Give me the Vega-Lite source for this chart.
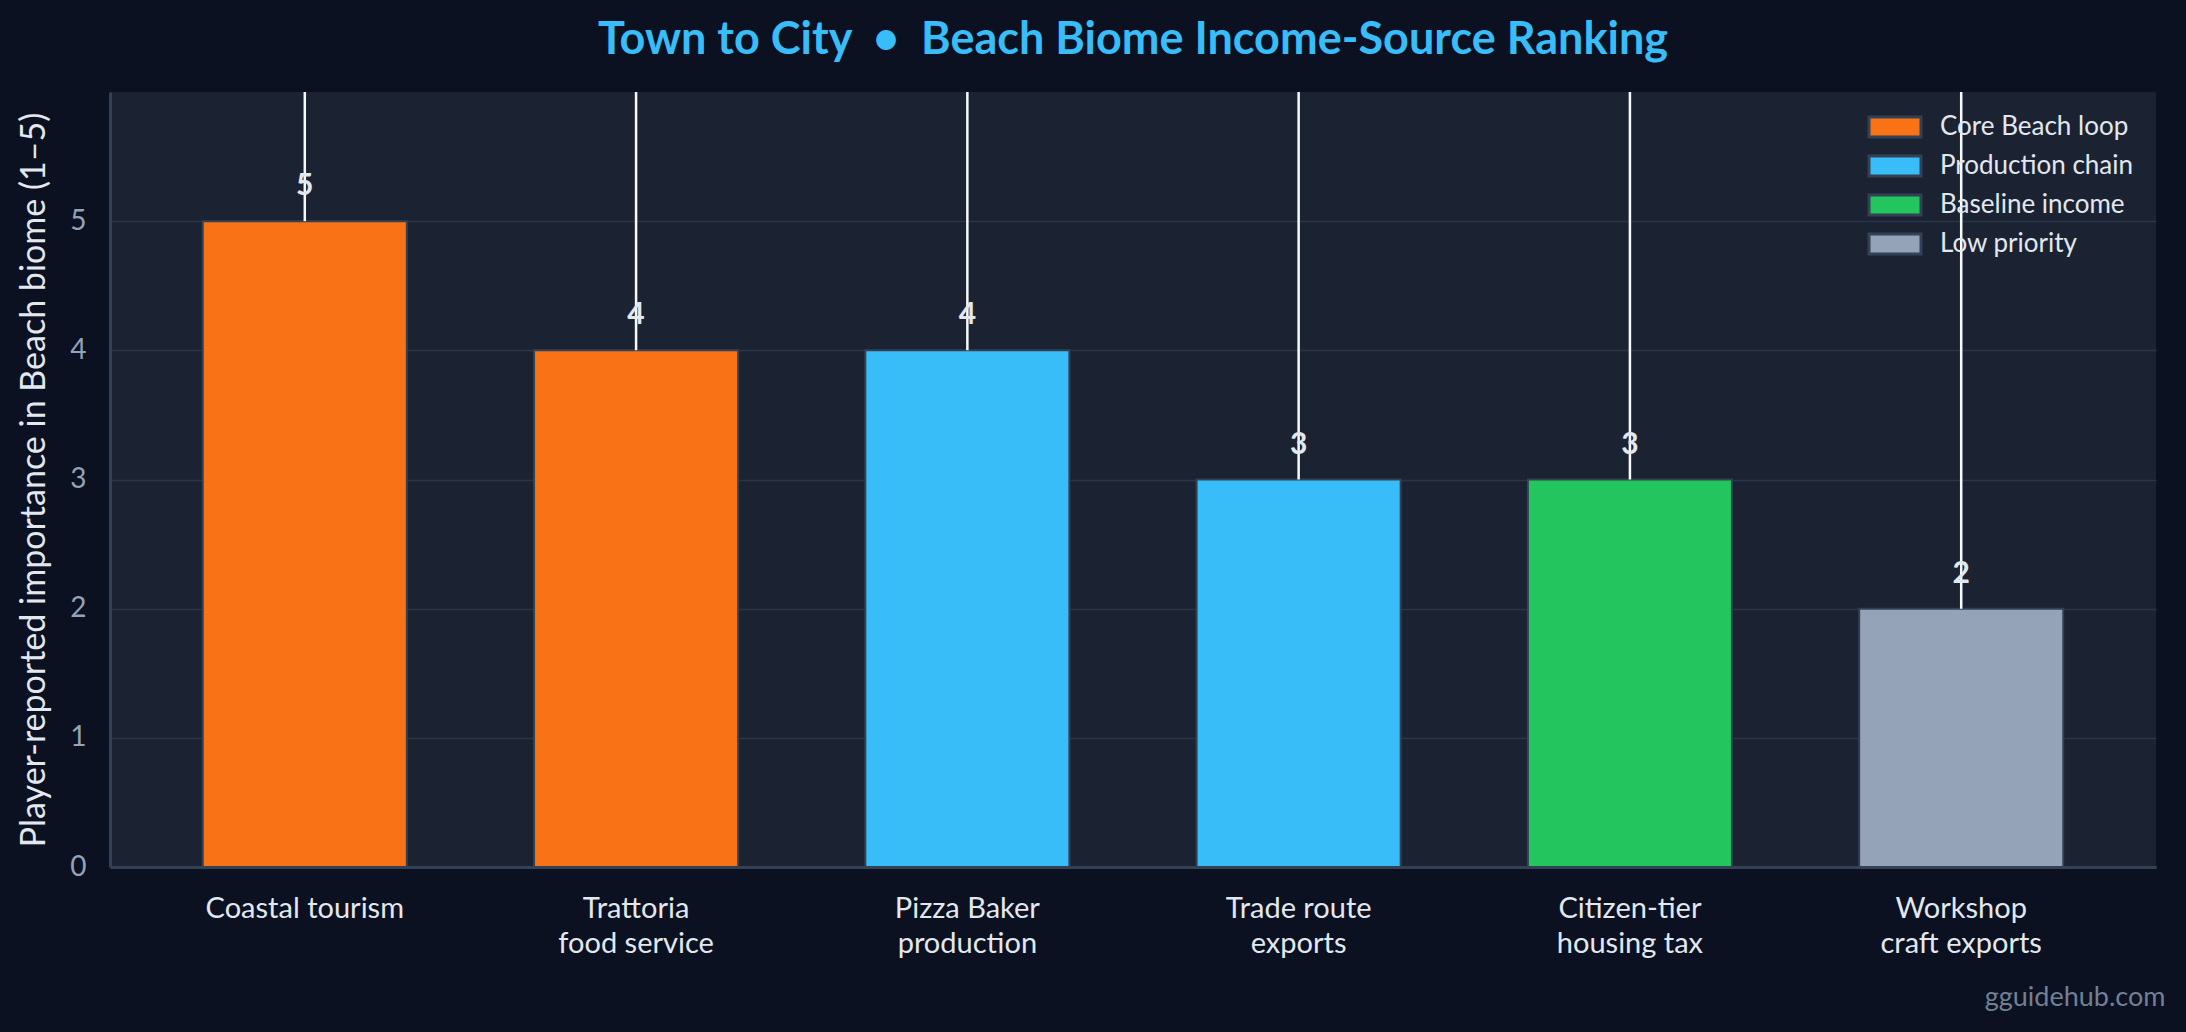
{
  "$schema": "https://vega.github.io/schema/vega-lite/v6.json",
  "autosize": {"type": "none"},
  "padding": {"left": 110, "top": 92, "right": 30, "bottom": 165},
  "width": 2046,
  "height": 775,
  "background": "#0b1120",
  "title": {
    "text": "Town to City\u00a0\u00a0•\u00a0\u00a0Beach Biome Income-Source Ranking",
    "color": "#38bdf8",
    "fontSize": 45,
    "fontWeight": "bold",
    "font": "Lato",
    "anchor": "middle",
    "offset": 28
  },
  "data": {
    "values": [
      {"source": "Coastal tourism", "importance": 5, "category": "Core Beach loop"},
      {"source": "Trattoria\nfood service", "importance": 4, "category": "Core Beach loop"},
      {"source": "Pizza Baker\nproduction", "importance": 4, "category": "Production chain"},
      {"source": "Trade route\nexports", "importance": 3, "category": "Production chain"},
      {"source": "Citizen-tier\nhousing tax", "importance": 3, "category": "Baseline income"},
      {"source": "Workshop\ncraft exports", "importance": 2, "category": "Low priority"}
    ]
  },
  "encoding": {
    "x": {
      "field": "source",
      "type": "nominal",
      "sort": null,
      "scale": {"paddingInner": 0.384, "paddingOuter": 0.28},
      "axis": {
        "labelExpr": "split(datum.label, '\\n')",
        "labelAngle": 0,
        "labelColor": "#e2e8f0",
        "labelFontSize": 29,
        "labelLineHeight": 35,
        "labelBaseline": "top",
        "labelPadding": 27,
        "labelLimit": 400,
        "ticks": false,
        "domainColor": "#334155",
        "domainWidth": 3,
        "grid": false,
        "title": "gguidehub.com",
        "titleColor": "#718096",
        "titleFontSize": 27,
        "titleFontWeight": "normal",
        "titleAlign": "right",
        "titleBaseline": "alphabetic",
        "titleX": 2055,
        "titleY": 138
      }
    },
    "y": {
      "field": "importance",
      "type": "quantitative",
      "scale": {"domain": [0, 6], "nice": false},
      "axis": {
        "values": [0, 1, 2, 3, 4, 5],
        "title": "Player-reported importance in Beach biome (1–5)",
        "titleColor": "#e2e8f0",
        "titleFontSize": 34,
        "titleFontWeight": "normal",
        "titlePadding": 18,
        "titleLimit": 900,
        "labelColor": "#94a3b8",
        "labelFontSize": 28,
        "labelPadding": 24,
        "ticks": false,
        "domainColor": "#334155",
        "domainWidth": 3,
        "gridColor": "#2b3546",
        "gridWidth": 1.5
      }
    }
  },
  "layer": [
    {
      "mark": {"type": "bar", "stroke": "#334155", "strokeWidth": 2},
      "encoding": {
        "color": {
          "field": "category",
          "type": "nominal",
          "scale": {
            "domain": ["Core Beach loop", "Production chain", "Baseline income", "Low priority"],
            "range": ["#f97316", "#38bdf8", "#22c55e", "#94a3b8"]
          },
          "legend": {
            "title": null,
            "orient": "top-right",
            "offset": 14,
            "padding": 8,
            "symbolType": "M-2.6,-1H2.6V1H-2.6Z",
            "symbolSize": 400,
            "symbolStrokeColor": "#334155",
            "symbolStrokeWidth": 3,
            "symbolOpacity": 1,
            "labelColor": "#e2e8f0",
            "labelFontSize": 26,
            "labelLimit": 400,
            "labelOffset": 32,
            "rowPadding": 7
          }
        }
      }
    },
    {
      "mark": {"type": "rule", "color": "#f8fafc", "strokeWidth": 2.5},
      "encoding": {
        "y2": {"datum": 6}
      }
    },
    {
      "mark": {"type": "text", "baseline": "alphabetic", "dy": -26, "fontSize": 30, "fontWeight": "bold", "color": "#e2e8f0"},
      "encoding": {
        "text": {"field": "importance", "type": "quantitative", "format": "d"}
      }
    }
  ],
  "config": {
    "font": "Lato",
    "view": {"fill": "#1b2333", "stroke": null},
    "legend": {"labelFont": "Lato"}
  }
}
